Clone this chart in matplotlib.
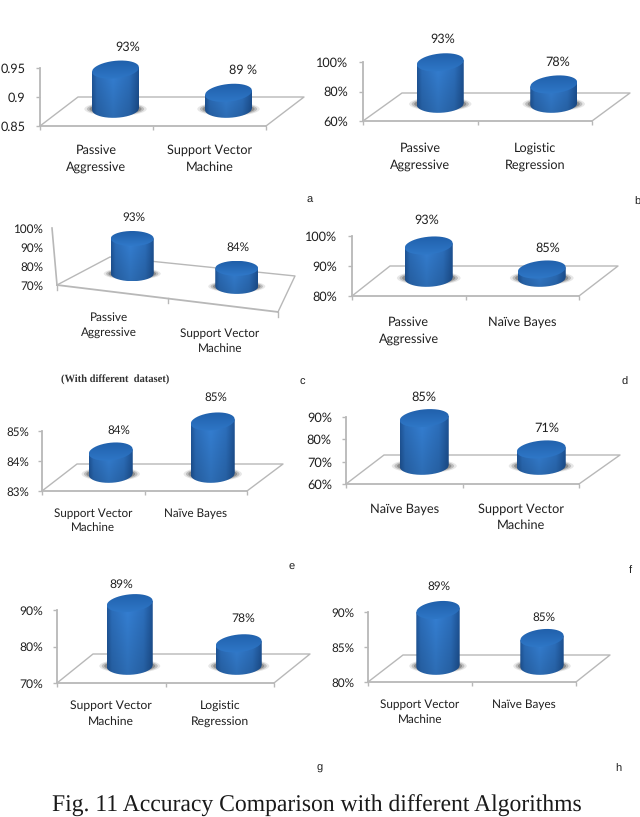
import numpy as np
import matplotlib
matplotlib.use('Agg')
import matplotlib.pyplot as plt
from matplotlib.path import Path
from matplotlib.patches import Ellipse

W, H = 640, 817

# values of the eight panels
values_a = [0.93, 0.89]
values_b = [0.93, 0.78]
values_c = [0.93, 0.84]
values_d = [0.93, 0.85]
values_e = [0.84, 0.85]
values_f = [0.85, 0.71]
values_g = [0.89, 0.78]
values_h = [0.89, 0.85]

value_labels_a = ['93%', '89 %']
value_labels_b = ['93%', '78%']
value_labels_c = ['93%', '84%']
value_labels_d = ['93%', '85%']
value_labels_e = ['84%', '85%']
value_labels_f = ['85%', '71%']
value_labels_g = ['89%', '78%']
value_labels_h = ['89%', '85%']

cats_a = ['Passive\nAggressive', 'Support Vector\nMachine']
cats_b = ['Passive\nAggressive', 'Logistic\nRegression']
cats_c = ['Passive\nAggressive', 'Support Vector\nMachine']
cats_d = ['Passive\nAggressive', 'Naïve Bayes']
cats_e = ['Support Vector\nMachine', 'Naïve Bayes']
cats_f = ['Naïve Bayes', 'Support Vector\nMachine']
cats_g = ['Support Vector\nMachine', 'Logistic\nRegression']
cats_h = ['Support Vector\nMachine', 'Naïve Bayes']

ticks_a = [0.85, 0.90, 0.95]
ticks_b = [0.60, 0.80, 1.00]
ticks_c = [0.70, 0.80, 0.90, 1.00]
ticks_d = [0.80, 0.90, 1.00]
ticks_e = [0.83, 0.84, 0.85]
ticks_f = [0.60, 0.70, 0.80, 0.90]
ticks_g = [0.70, 0.80, 0.90]
ticks_h = [0.80, 0.85, 0.90]

tick_labels_a = ['0.85', '0.9', '0.95']
tick_labels_b = ['60%', '80%', '100%']
tick_labels_c = ['70%', '80%', '90%', '100%']
tick_labels_d = ['80%', '90%', '100%']
tick_labels_e = ['83%', '84%', '85%']
tick_labels_f = ['60%', '70%', '80%', '90%']
tick_labels_g = ['70%', '80%', '90%']
tick_labels_h = ['80%', '85%', '90%']

plt.rcParams['font.family'] = ['Lato', 'DejaVu Sans']
plt.rcParams['text.hinting'] = 'no_hinting'
fig = plt.figure(figsize=(W / 100, H / 100), dpi=100, facecolor='white')

GRID = '#b8b8b8'
TEXT = '#1f1f1f'


def mix(c1, c2, k):
    return np.array(c1) + (np.array(c2) - np.array(c1)) * k


def rgb(h):
    return np.array(matplotlib.colors.to_rgb(h))


def body_image():
    # shading of the cylinder side, dark at both edges
    t = np.linspace(-1, 1, 60)
    s = np.linspace(0, 1, 60)
    side = np.interp(t, [-1, -0.8, -0.1, 0.6, 0.88, 1], [0.1, 0.6, 1, 0.65, 0.2, 0])
    img = np.zeros((60, 60, 3))
    for i, v in enumerate(s):
        for j in range(60):
            c = mix(rgb('#1d5294'), rgb('#3580d4'), side[j])
            img[i, j] = c * (1.02 - 0.17 * v)
    return np.clip(img, 0, 1)


def top_image():
    s = np.linspace(0, 1, 30)
    img = np.zeros((30, 30, 3))
    for i, v in enumerate(s):
        img[i, :] = mix(rgb('#1f5ea9'), rgb('#3079c9'), v)
    return img


BODY = body_image()
TOP = top_image()


def cylinder(ax, cx, y_bot, y_top, rx, ry, skew, z):
    t = np.linspace(-1, 1, 80)
    xs = cx + rx * t
    arc = ry * np.sqrt(1 - t ** 2)
    # soft shadow on the floor
    for grow, alpha in [(7.5, 0.14), (5, 0.28), (2.5, 0.45)]:
        ax.add_patch(Ellipse((cx, y_bot), 2 * rx * (1 + grow / 23), 2 * ry * (0.55 + grow / 30),
                             color='#555555', alpha=alpha, lw=0, zorder=z, clip_on=False))
    # the foot of the cylinder leans less than its lid
    body = np.vstack([np.c_[xs, y_bot + 0.4 * skew * t - arc],
                      np.c_[xs[::-1], (y_top + skew * t)[::-1]],
                      [[xs[0], y_bot - 0.4 * skew]]])
    im = ax.imshow(BODY, extent=(cx - rx, cx + rx, y_bot - ry, y_top + ry), aspect='auto',
                   interpolation='bilinear', zorder=z + 1)
    im.set_clip_path(Path(body), ax.transData)
    im.set_clip_box(fig.bbox)
    lid = np.vstack([np.c_[xs, y_top + skew * t - arc],
                     np.c_[xs[::-1], (y_top + skew * t + arc)[::-1]],
                     [[xs[0], y_top - skew]]])
    im = ax.imshow(TOP, extent=(cx - rx, cx + rx, y_top - ry - abs(skew), y_top + ry + abs(skew)),
                   aspect='auto', interpolation='bilinear', zorder=z + 2)
    im.set_clip_path(Path(lid), ax.transData)
    im.set_clip_box(fig.bbox)


def panel(values, value_labels, cats, ticks, tick_labels, box, back_l, back_r, shift, rx, lift, blift,
          label_off, cat_gap, size=8.6, spacing=1.5, tilt=0.0, lean=0, ry=8.8, skew=2.2, cat_dx=0, tick_pad=8):
    x0, x1, y_top, y_base = box
    lo, hi = ticks[0], ticks[-1]
    ax = fig.add_axes([x0 / W, 1 - y_base / H, (x1 - x0) / W, (y_base - y_top) / H])
    ax.patch.set_alpha(0)
    px_x = 2 / (x1 - x0)
    px_y = (hi - lo) / (y_base - y_top)

    for s in ['top', 'right']:
        ax.spines[s].set_visible(False)
    for s in ['left', 'bottom']:
        ax.spines[s].set_color(GRID)
        ax.spines[s].set_linewidth(1.3)
    ax.tick_params(axis='both', color=GRID, length=3.2, width=1)
    ax.tick_params(axis='y', pad=tick_pad, labelsize=size, labelcolor=TEXT)
    ax.set_yticks(ticks)
    ax.set_yticklabels(tick_labels)
    ax.set_xticks([0, 1, 2])
    ax.set_xticklabels([])

    drop = tilt * (x1 - x0) * px_y  # how far the right end of the front edge falls
    # floor outline
    fl = (0, lo)
    fr = (2, lo - drop)
    bl = (back_l[0] * px_x, lo + back_l[1] * px_y)
    br = (2 + back_r[0] * px_x, lo - drop + back_r[1] * px_y)
    ax.plot([fl[0], bl[0], br[0], fr[0]], [fl[1], bl[1], br[1], fr[1]], color=GRID, lw=1.0,
            clip_on=False, zorder=1)
    if tilt:
        ax.spines['left'].set_visible(False)
        ax.spines['bottom'].set_visible(False)
        ax.tick_params(axis='both', length=0)
        ax.plot([0, -lean * px_x], [lo, hi], color=GRID, lw=1.2, clip_on=False, zorder=1)
        ax.plot([0, 2], [lo, lo - drop], color=GRID, lw=1.3, clip_on=False, zorder=1)
        for k in [0, 1, 2]:
            ym = lo - drop * k / 2
            ax.plot([k, k], [ym, ym - 5 * px_y], color=GRID, lw=1, clip_on=False, zorder=1)

    for i, v in enumerate(values):
        cat_x = i + 0.5
        cx = cat_x + shift[i] * px_x
        fall = tilt * (cx / px_x) * px_y
        top = v + lift * px_y - fall
        bot = lo + blift * px_y - fall
        cylinder(ax, cx, bot, top, rx * px_x, ry * px_y, skew * px_y, 3 + i * 4)
        dx, dy = label_off[i]
        ax.text(cx + dx * px_x, top + dy * px_y, value_labels[i], ha='center', va='center',
                fontsize=size, color=TEXT, zorder=20, clip_on=False)
        ax.text(cat_x + cat_dx * px_x, lo - tilt * ((cat_x + cat_dx * px_x) / px_x) * px_y - cat_gap[i] * px_y,
                cats[i], ha='center', va='top', fontsize=size, color=TEXT, linespacing=spacing, clip_on=False)
    ax.set_xlim(0, 2)
    ax.set_ylim(lo, hi)
    return ax


panel(values_a, value_labels_a, cats_a, ticks_a, tick_labels_a, (40, 266, 68, 126), (38, 29), (38, 29),
      (19, 19), 23.5, 10, 17, [(12, 22), (15, 23)], (18, 18), size=9.1, spacing=1.55, tick_pad=7.5)
panel(values_b, value_labels_b, cats_b, ticks_b, tick_labels_b, (363, 592, 62, 121), (39, 28), (38, 28),
      (20, 19), 23.5, 10, 17, [(2, 23), (4, 22)], (21, 21), size=9.1, spacing=1.55, tick_pad=7.5)
panel(values_c, value_labels_c, cats_c, ticks_c, tick_labels_c, (57, 278, 228, 285), (53, 28), (17, 36),
      (20, 14), 21.5, 12, 20.5, [(2, 21), (1, 21)], (21, 23), size=8.5, spacing=1.43, tilt=0.122, lean=5,
      ry=7.5, skew=0, cat_dx=-3, tick_pad=10)
panel(values_d, value_labels_d, cats_d, ticks_d, tick_labels_d, (352, 579, 236, 296), (38, 30), (39, 30),
      (20, 19.5), 24, 11.5, 18, [(-2, 25), (6, 21)], (20, 20), size=9.1, spacing=1.55, tick_pad=7.5)
panel(values_e, value_labels_e, cats_e, ticks_e, tick_labels_e, (42, 247, 431, 491), (35, 27), (36, 27),
      (17.5, 17), 22, 9.5, 17, [(8, 21), (3, 24)], (17, 17), size=8.4, spacing=1.4, tick_pad=6)
panel(values_f, value_labels_f, cats_f, ticks_f, tick_labels_f, (346, 579, 417, 484), (38, 29), (41, 29),
      (20, 20.5), 24.5, 10, 18, [(0, 21), (6, 21)], (19, 19), size=9.2, spacing=1.45, tick_pad=7)
panel(values_g, value_labels_g, cats_g, ticks_g, tick_labels_g, (57, 274, 610, 683), (36, 29), (36, 29),
      (18.5, 19), 23, 10.5, 17, [(-8, 19), (4, 25)], (17, 17), size=8.7, spacing=1.55, tick_pad=7)
panel(values_h, value_labels_h, cats_h, ticks_h, tick_labels_h, (368, 576, 612, 682), (35, 27), (34, 27),
      (18, 18), 21.7, 9, 16, [(0.5, 23), (1.5, 20)], (17, 17), size=8.5, spacing=1.45, tick_pad=6.5)


def fig_text(x, y, s, **kw):
    fig.text(x / W, 1 - y / H, s, ha='center', va='center', **kw)


for letter, lx, ly in [('a', 310, 200), ('b', 637, 202), ('c', 302, 382), ('d', 625, 382),
                       ('e', 292, 567), ('f', 630, 570), ('g', 320, 768), ('h', 618, 768)]:
    fig_text(lx, ly, letter, family='Liberation Sans', fontsize=8, color=TEXT)

fig_text(115, 380, '(With different  dataset)', family='Liberation Serif', fontsize=7.6,
         fontweight='bold', color='#333333')
fig_text(317, 806, 'Fig. 11 Accuracy Comparison with different Algorithms', family='Liberation Serif',
         fontsize=17.05, color='#1a1a1a')

fig.savefig('out.png', dpi=100)
